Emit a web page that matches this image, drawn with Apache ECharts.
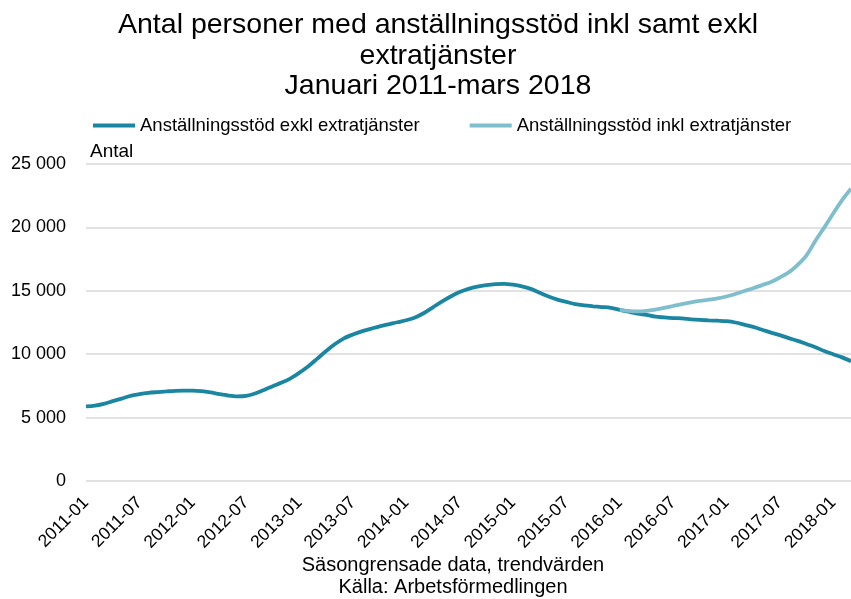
<!DOCTYPE html>
<html>
<head>
<meta charset="utf-8">
<script src="https://cdn.jsdelivr.net/npm/echarts@6/dist/echarts.min.js"></script>
<style>html,body{margin:0;padding:0;background:#fff;}#c{width:851px;height:599px;}</style>
</head>
<body>
<div id="c"></div>
<script>
// Months 2011-01 .. 2018-03
const months = [];
for (let y = 2011; y <= 2018; y++) {
  for (let m = 1; m <= 12; m++) {
    if (y === 2018 && m > 3) break;
    months.push(y + '-' + (m < 10 ? '0' + m : m));
  }
}
const seriesNames = ['Anställningsstöd exkl extratjänster', 'Anställningsstöd inkl extratjänster'];
const exkl = [
  5880, 5950, 6080, 6300, 6500, 6720, 6850, 6950, 7010, 7060, 7110, 7130,
  7130, 7080, 6980, 6850, 6740, 6680, 6720, 6900, 7180, 7480, 7760, 8100,
  8550, 9050, 9650, 10250, 10800, 11250, 11550, 11800, 12000, 12200, 12350, 12520,
  12680, 12900, 13250, 13700, 14150, 14550, 14900, 15150, 15330, 15450, 15530, 15550,
  15480, 15350, 15150, 14850, 14550, 14300, 14120, 13950, 13850, 13780, 13720, 13650,
  13500, 13350, 13200, 13100, 12960, 12900, 12850, 12820, 12750, 12700, 12670, 12640,
  12600, 12500, 12330, 12150, 11930, 11700, 11500, 11270, 11050, 10800, 10550, 10250,
  10000, 9750, 9450
];
const inkl = [
  null, null, null, null, null, null, null, null, null, null, null, null,
  null, null, null, null, null, null, null, null, null, null, null, null,
  null, null, null, null, null, null, null, null, null, null, null, null,
  null, null, null, null, null, null, null, null, null, null, null, null,
  null, null, null, null, null, null, null, null, null, null, null, null,
  13500, 13420, 13380, 13420, 13520, 13650, 13800, 13950, 14080, 14200, 14300, 14400,
  14550, 14750, 14980, 15200, 15450, 15700, 16050, 16450, 17050, 17800, 18950, 20000,
  21100, 22150, 23050
];
const yTicks = [0, 5000, 10000, 15000, 20000, 25000];
const titleLines = ['Antal personer med anställningsstöd inkl samt exkl', 'extratjänster', 'Januari 2011-mars 2018'];
const footLines = ['Säsongrensade data, trendvärden', 'Källa: Arbetsförmedlingen'];

const FONT = '"Liberation Sans", Arial, sans-serif';
const c1 = '#1a86a2', c2 = '#7fbecd';

const chart = echarts.init(document.getElementById('c'), null, {renderer: 'canvas'});
chart.setOption({
  animation: false,
  backgroundColor: '#fff',
  textStyle: {fontFamily: FONT, color: '#000'},
  graphic: [
    {type: 'text', x: 438, y: 10, style: {text: titleLines.join('\n'), font: '28.5px ' + FONT, fill: '#000', align: 'center', verticalAlign: 'top', lineHeight: 30.5}},
    {type: 'text', x: 90, y: 142, style: {text: 'Antal', font: '19px ' + FONT, fill: '#000', align: 'left', verticalAlign: 'top'}},
    {type: 'text', x: 453, y: 554, style: {text: footLines.join('\n'), font: '20px ' + FONT, fill: '#000', align: 'center', verticalAlign: 'top', lineHeight: 22}}
  ],
  legend: {
    left: 93, top: 116, padding: 0, itemWidth: 42, itemHeight: 4, itemGap: 50,
    icon: 'path://M0,0 L42,0 L42,4 L0,4 Z',
    textStyle: {fontFamily: FONT, fontSize: 18.5, color: '#000'},
    data: seriesNames
  },
  grid: {left: 86, right: 0, top: 164, bottom: 118, containLabel: false},
  xAxis: {
    type: 'category', data: months, boundaryGap: false,
    axisLine: {show: false}, axisTick: {show: false},
    axisLabel: {interval: 5, rotate: 45, fontFamily: FONT, fontSize: 17.5, color: '#000', margin: 19},
    splitLine: {show: false}
  },
  yAxis: {
    type: 'value', min: 0, max: 25000, interval: 5000,
    axisLine: {show: false}, axisTick: {show: false},
    axisLabel: {fontFamily: FONT, fontSize: 18, color: '#000', margin: 20,
      formatter: v => yTicks.indexOf(v) >= 0 ? String(v).replace(/\B(?=(\d{3})+(?!\d))/g, ' ') : ''},
    splitLine: {lineStyle: {color: '#d9d9d9', width: 1.5}}
  },
  series: [
    {name: seriesNames[0], type: 'line', data: exkl, smooth: 0.3, showSymbol: false, symbol: 'none',
      lineStyle: {color: c1, width: 3.8}, itemStyle: {color: c1}},
    {name: seriesNames[1], type: 'line', data: inkl, smooth: 0.3, showSymbol: false, symbol: 'none',
      lineStyle: {color: c2, width: 3.8}, itemStyle: {color: c2}}
  ]
});
</script>
</body>
</html>
